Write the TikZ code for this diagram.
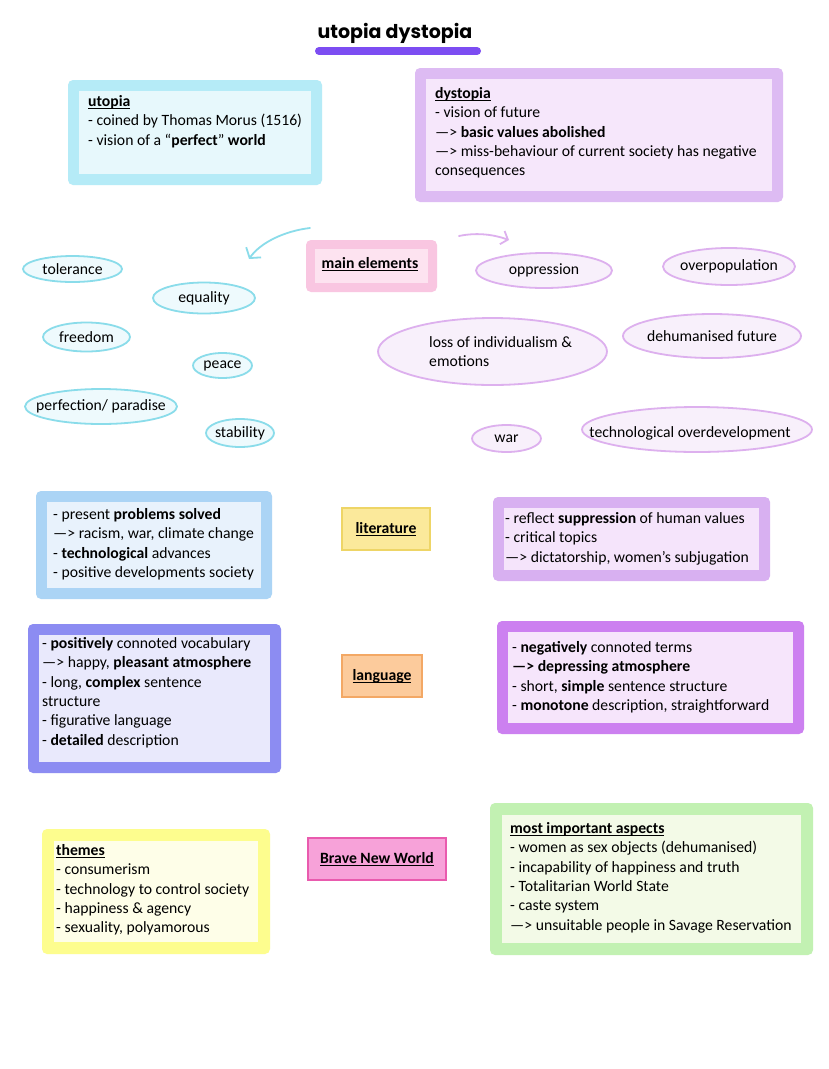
\documentclass[tikz,border=0pt]{standalone}
\usepackage{fontspec}
\setmainfont{Carlito}
\newfontfamily\titlefont{Poppins}
\usetikzlibrary{shapes.geometric,arrows.meta}
\newcommand\fl{\rule{0pt}{12pt}}
\newcommand\zw[1]{\makebox[0pt]{#1}}
\newsavebox\hdbox
\newcommand\hd[1]{\sbox\hdbox{\textbf{#1}}\rlap{\rule[-3pt]{\wd\hdbox}{1.1pt}}\usebox\hdbox}
\definecolor{utoOut}{HTML}{B5EBF7}\definecolor{utoIn}{HTML}{E7F8FC}
\definecolor{dysOut}{HTML}{DDBBF3}\definecolor{dysIn}{HTML}{F6E7FB}
\definecolor{mainOut}{HTML}{F9C6E1}\definecolor{mainIn}{HTML}{FDE3F0}
\definecolor{litLOut}{HTML}{ABD4F5}\definecolor{litLIn}{HTML}{E8F2FC}
\definecolor{litROut}{HTML}{D8B0F1}\definecolor{litRIn}{HTML}{F5E4FB}
\definecolor{litF}{HTML}{FBE99B}\definecolor{litD}{HTML}{EED566}
\definecolor{lanLOut}{HTML}{8C8CF2}\definecolor{lanLIn}{HTML}{E9E9FC}
\definecolor{lanROut}{HTML}{CC80F0}\definecolor{lanRIn}{HTML}{F6E5FB}
\definecolor{lanF}{HTML}{FCCB9C}\definecolor{lanD}{HTML}{F3A865}
\definecolor{themOut}{HTML}{FDFD8E}\definecolor{themIn}{HTML}{FEFEE8}
\definecolor{aspOut}{HTML}{C2F1B2}\definecolor{aspIn}{HTML}{F3FAE7}
\definecolor{bnwF}{HTML}{F7A2D9}\definecolor{bnwD}{HTML}{E95BAE}
\definecolor{titleBar}{HTML}{7C4DF2}
\definecolor{cyanS}{HTML}{8ADCEA}\definecolor{cyanF}{HTML}{EEFAFD}
\definecolor{purS}{HTML}{DDB0EE}\definecolor{purF}{HTML}{F8F0FB}
\tikzset{
  panel/.style={fill=#1, rounded corners=5pt},
  inpanel/.style={fill=#1},
  txt/.style={anchor=north west, inner sep=0pt, align=left},
  ce/.style={ellipse, draw=cyanS, fill=cyanF, line width=1.8pt, inner sep=0pt},
  pe/.style={ellipse, draw=purS, fill=purF, line width=1.8pt, inner sep=0pt},
  tag/.style={rectangle, line width=1.6pt, inner sep=0pt},
  arrowC/.style={draw=cyanS, line width=1.8pt, line cap=round, -{Straight Barb[length=7pt,width=18pt,line width=1.8pt]}},
  arrowP/.style={draw=purS, line width=1.8pt, line cap=round, -{Straight Barb[length=6pt,width=14pt,line width=1.8pt]}},
}
\newcommand\mypanel[7]{%
  \fill[panel=#1] (#3,#4) rectangle (#5,#6);
  \fill[inpanel=#2] ({#3+#7},{#4+#7}) rectangle ({#5-#7},{#6-#7});}
\begin{document}
\begin{tikzpicture}[x=1pt,y=-1pt,font=\fontsize{15.7}{19.4}\selectfont]
\fill[white] (0,0) rectangle (828,1069);
\useasboundingbox (0,0) rectangle (828,1069);
% title
\coordinate (bs) at (319,51);
\coordinate (be) at (477,51);
\draw[titleBar, line width=8pt, line cap=round] (bs) -- (be);
\node[inner sep=0pt] (title) at (395,33) {\titlefont\bfseries\fontsize{19}{19}\selectfont utopia dystopia};
% utopia / dystopia
\mypanel{utoOut}{utoIn}{68}{80}{322}{185}{11}
\node[txt] (utoT) at (88,94) {\fl\hd{utopia}\\- coined by Thomas Morus (1516)\\- vision of a “\textbf{perfect}” \textbf{world}};
\mypanel{dysOut}{dysIn}{415}{68}{783}{202}{11}
\node[txt] (dysT) at (435,86) {\fl\hd{dystopia}\\- vision of future\\—> \textbf{basic values abolished}\\—> miss-behaviour of current society has negative\\consequences};
% main elements
\mypanel{mainOut}{mainIn}{306}{240}{437}{292}{9}
\node[inner sep=0pt] (mainT) at (370,264) {\hd{main elements}};
\coordinate (a1s) at (310,228);
\coordinate (a1e) at (249,259);
\draw[arrowC] (a1s) .. controls (284,231) and (260,243) .. (a1e);
\coordinate (a2s) at (459,236);
\coordinate (a2e) at (509,240);
\draw[arrowP] (a2s) .. controls (478,232) and (495,235) .. (a2e);
% utopia ellipses
\node[ce, minimum width=99pt, minimum height=26pt] (tol) at (72.5,269) {\zw{tolerance}};
\node[ce, minimum width=102pt, minimum height=31pt] (equ) at (204,298) {\zw{equality}};
\node[ce, minimum width=87pt, minimum height=29pt] (fre) at (86.5,337) {\zw{freedom}};
\node[ce, minimum width=59pt, minimum height=25pt] (pea) at (222.5,365.5) {\zw{peace}};
\node[ce, minimum width=152pt, minimum height=35pt] (per) at (101,406.5) {\zw{perfection/ paradise}};
\node[ce, minimum width=68pt, minimum height=28pt] (sta) at (240,433) {\zw{stability}};
% dystopia ellipses
\node[pe, minimum width=136pt, minimum height=35pt] (opp) at (544,270.5) {\zw{oppression}};
\node[pe, minimum width=132pt, minimum height=37pt] (ovp) at (729,266.5) {\zw{overpopulation}};
\node[pe, minimum width=229pt, minimum height=67pt] (loss) at (492.5,351.5) {};
\node[txt] (lossT) at (429,335) {\fl loss of individualism \&\\emotions};
\node[pe, minimum width=178pt, minimum height=44pt] (deh) at (712,336) {\zw{dehumanised future}};
\node[pe, minimum width=69pt, minimum height=27pt] (war) at (506.5,438.5) {\zw{war}};
\node[pe, minimum width=230pt, minimum height=45pt] (tec) at (697,429.5) {};
\node[inner sep=0pt] (tecT) at (690,433) {technological overdevelopment};
% literature
\mypanel{litLOut}{litLIn}{36}{491}{272}{599}{11}
\node[txt] (litLT) at (53,507) {\fl- present \textbf{problems solved}\\—> racism, war, climate change\\- \textbf{technological} advances\\- positive developments society};
\node[tag, fill=litF, draw=litD, minimum width=88pt, minimum height=42pt] (lit) at (386,529) {\hd{literature}};
\mypanel{litROut}{litRIn}{493}{497}{770}{581}{11}
\node[txt] (litRT) at (505,511) {\fl- reflect \textbf{suppression} of human values\\- critical topics\\—> dictatorship, women’s subjugation};
% language
\mypanel{lanLOut}{lanLIn}{28}{624}{281}{773}{11}
\node[txt] (lanLT) at (42,636) {\fl- \textbf{positively} connoted vocabulary\\—> happy, \textbf{pleasant atmosphere}\\- long, \textbf{complex} sentence\\structure\\- figurative language\\- \textbf{detailed} description};
\node[tag, fill=lanF, draw=lanD, minimum width=80pt, minimum height=42pt] (lan) at (382,676) {\hd{language}};
\mypanel{lanROut}{lanRIn}{497}{621}{804}{734}{11}
\node[txt] (lanRT) at (512,640) {\fl- \textbf{negatively} connoted terms\\\textbf{—> depressing atmosphere}\\- short, \textbf{simple} sentence structure\\- \textbf{monotone} description, straightforward};
% Brave New World
\mypanel{themOut}{themIn}{42}{829}{270}{954}{12}
\node[txt] (themT) at (56,843) {\fl\hd{themes}\\- consumerism\\- technology to control society\\- happiness \& agency\\- sexuality, polyamorous};
\node[tag, fill=bnwF, draw=bnwD, minimum width=138pt, minimum height=42pt] (bnw) at (377,859) {\hd{Brave New World}};
\mypanel{aspOut}{aspIn}{490}{803}{813}{955}{12}
\node[txt] (aspT) at (510,821) {\fl\hd{most important aspects}\\- women as sex objects (dehumanised)\\- incapability of happiness and truth\\- Totalitarian World State\\- caste system\\—> unsuitable people in Savage Reservation};
\end{tikzpicture}
\end{document}
